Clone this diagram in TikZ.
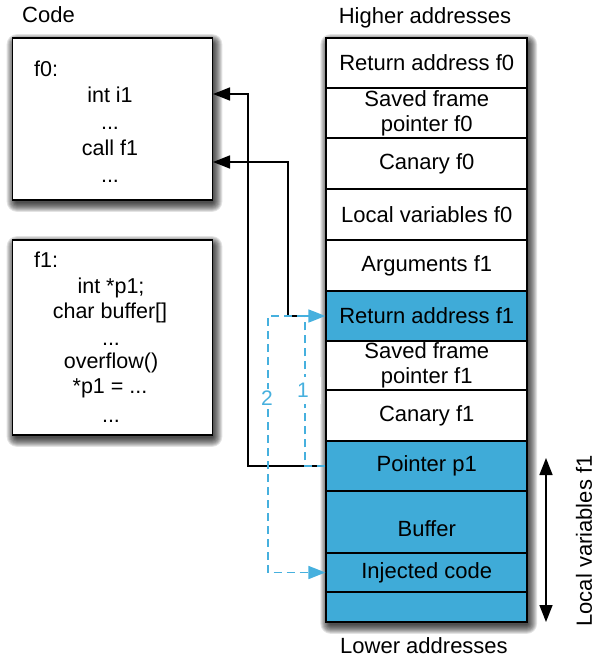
\documentclass[tikz,border=0pt]{standalone}
\usepackage{fontspec}
\setmainfont{Liberation Sans}
\usetikzlibrary{arrows.meta,backgrounds}
\definecolor{stackblue}{RGB}{63,171,216}
\definecolor{dashblue}{RGB}{70,176,222}
\newcommand{\dropsh}[2]{%
  \foreach \i in {0,...,9}{%
    \pgfmathsetmacro\ax{2-(\i-2)}%
    \pgfmathsetmacro\ay{-4+(\i-2)}%
    \pgfmathsetmacro\bx{2+(\i-2)}%
    \pgfmathsetmacro\by{-4-(\i-2)}%
    \pgfmathsetmacro\rc{\i+1}%
    \fill[black, opacity=0.11, rounded corners=\rc pt]
      ([shift={(\ax,\ay)}]#1.north west) rectangle ([shift={(\bx,\by)}]#2.south east);
  }%
}
\begin{document}
\begin{tikzpicture}[x=1pt,y=1pt,
  every node/.style={font=\fontsize{22}{25}\selectfont},
  cell/.style={draw=black, line width=1.6pt, minimum width=201pt, inner sep=0pt, align=center, fill=white},
  bluecell/.style={cell, fill=stackblue},
  codebox/.style={draw=black, line width=1.6pt, fill=white, minimum width=200pt, inner sep=0pt},
  codeline/.style={anchor=base, inner sep=0pt, font=\fontsize{21.5}{25}\selectfont},
  ptr/.style={line width=1.5pt, -{Triangle[length=17pt,width=13pt]}},
  inj/.style={draw=dashblue, line width=1.5pt, dash pattern=on 8pt off 5pt, -{Triangle[length=17pt,width=13pt]}, color=dashblue},
  numlbl/.style={text=dashblue, font=\fontsize{21}{24}\selectfont, fill=white},
]
\useasboundingbox (0,0) rectangle (596,-659);

% titles
\node[anchor=base west, inner sep=0pt] (code) at (22,-22) {Code};
\node[anchor=base, inner sep=0pt] (high) at (425,-23) {Higher addresses};
\node[anchor=base, inner sep=0pt] (low) at (424,-653) {Lower addresses};

% code boxes
\node[codebox, minimum height=162pt] (f0box) at (112.5,-119) {};
\node[codebox, minimum height=195pt] (f1box) at (112.5,-337.5) {};

\node[codeline, anchor=base west] (f0lbl) at (34,-76) {f0:};
\node[codeline] (f0a) at (110,-102) {int i1};
\node[codeline] (f0b) at (110,-129) {...};
\node[codeline] (f0c) at (110,-155) {call f1};
\node[codeline] (f0d) at (110,-182) {...};

\node[codeline, anchor=base west] (f1lbl) at (34,-267) {f1:};
\node[codeline] (f1a) at (111,-293) {int *p1;};
\node[codeline] (f1b) at (110,-318) {char buffer[]};
\node[codeline] (f1c) at (111,-345) {...};
\node[codeline] (f1d) at (111,-368) {overflow()};
\node[codeline] (f1e) at (110,-393) {*p1 = ...};
\node[codeline] (f1f) at (111,-422) {...};

% stack
\node[cell, minimum height=50pt] (ra0) at (426.75,-63) {Return address f0};
\node[cell, minimum height=50pt] (sf0) at (426.75,-113) {Saved frame\\pointer f0};
\node[cell, minimum height=51pt] (ca0) at (426.75,-163.5) {Canary f0};
\node[cell, minimum height=51pt] (lv0) at (426.75,-214.5) {Local variables f0};
\node[cell, minimum height=51pt] (ar1) at (426.75,-265.5) {Arguments f1};
\node[bluecell, minimum height=50pt] (ra1) at (426.75,-316) {Return address f1};
\node[cell, minimum height=49pt] (sf1) at (426.75,-365.5) {Saved frame\\pointer f1};
\node[cell, minimum height=51pt] (ca1) at (426.75,-415.5) {Canary f1};
\node[bluecell, minimum height=50pt] (p1) at (426.75,-466) {Pointer p1};
\node[bluecell, minimum height=62pt] (buf) at (426.75,-522) {};
\node[inner sep=0pt] (buftxt) at (426.75,-529) {Buffer};
\node[bluecell, minimum height=39pt] (inj) at (426.75,-572.5) {Injected code};
\node[bluecell, minimum height=30pt] (rest) at (426.75,-607) {};

% shadows
\begin{scope}[on background layer]
  \dropsh{f0box}{f0box}
  \dropsh{f1box}{f1box}
  \dropsh{ra0}{rest}
\end{scope}

% coordinates
\coordinate (i1in) at (213,-94);
\coordinate (callin) at (213,-162);
\coordinate (c1) at (248,-94);
\coordinate (c2) at (288,-162);
\coordinate (k1) at (305,-316);
\coordinate (k2) at (268,-316);

% black connectors
\draw[ptr] (p1.west) -| (c1) -- (i1in);
\draw[ptr] (k1) -| (c2) -- (callin);

% blue dashed connectors
\draw[inj] (p1.west) -- (305,-466) |- (ra1.west);
\draw[inj] (k1) -- (k2) |- (inj.west);

\node[numlbl, inner sep=1.5pt] (lbl2) at (267,-398) {2};
\node[numlbl, inner sep=0pt, minimum width=24pt, minimum height=27pt] (lbl1) at (309,-390) {\makebox[24pt][l]{1}};

% local variables arrow
\coordinate (lvtop) at (546,-458);
\coordinate (lvbot) at (546,-622);
\draw[line width=1.5pt, {Triangle[length=17pt,width=13pt]}-{Triangle[length=17pt,width=13pt]}] (lvtop) -- (lvbot);
\node[rotate=90, anchor=center, inner sep=0pt] (lvlbl) at (584,-541) {Local variables f1};
\end{tikzpicture}
\end{document}
